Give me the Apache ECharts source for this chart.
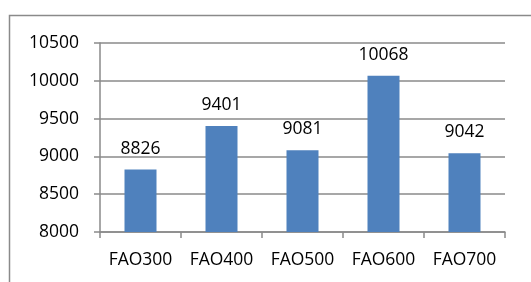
<!DOCTYPE html>
<html>
<head>
<meta charset="utf-8">
<script src="https://cdn.jsdelivr.net/npm/echarts@6/dist/echarts.min.js"></script>
<style>
  html, body { margin: 0; padding: 0; background: #fff; }
  #chart { width: 531px; height: 282px; }
</style>
</head>
<body>
<div id="chart"></div>
<script>
// 数据
const categories = ['FAO300', 'FAO400', 'FAO500', 'FAO600', 'FAO700'];
const values = [8826, 9401, 9081, 10068, 9042];

const chart = echarts.init(document.getElementById('chart'), null, { renderer: 'canvas' });
const textFont = { fontFamily: 'Open Sans', fontSize: 17.5, color: '#000' };

chart.setOption({
    animation: false,
    graphic: [{
        type: 'rect',
        shape: { x: 9.5, y: 15.5, width: 700, height: 500 },
        style: { fill: 'none', stroke: '#8a8a8a', lineWidth: 1.5 },
        silent: true
    }],
    grid: { left: 100, right: 26, top: 43, bottom: 50 },
    xAxis: {
        type: 'category',
        data: categories,
        axisLine: { lineStyle: { color: '#8a8a8a', width: 1.5 } },
        axisTick: { show: true, length: 6, alignWithLabel: false, lineStyle: { color: '#8a8a8a', width: 1.5 } },
        axisLabel: { ...textFont, margin: 19, interval: 0, hideOverlap: false }
    },
    yAxis: {
        type: 'value',
        min: 8000,
        max: 10500,
        interval: 500,
        axisLine: { show: true, lineStyle: { color: '#8a8a8a', width: 1.5 } },
        axisTick: { show: true, length: 6, lineStyle: { color: '#8a8a8a', width: 1.5 } },
        splitLine: { lineStyle: { color: '#8a8a8a', width: 1.5 } },
        axisLabel: { ...textFont, margin: 21, formatter: (v) => String(v) }
    },
    series: [{
        type: 'bar',
        data: values,
        barWidth: 32,
        itemStyle: { color: '#4f81bd' },
        label: { show: true, position: 'top', distance: 12, ...textFont }
    }]
});
</script>
</body>
</html>
